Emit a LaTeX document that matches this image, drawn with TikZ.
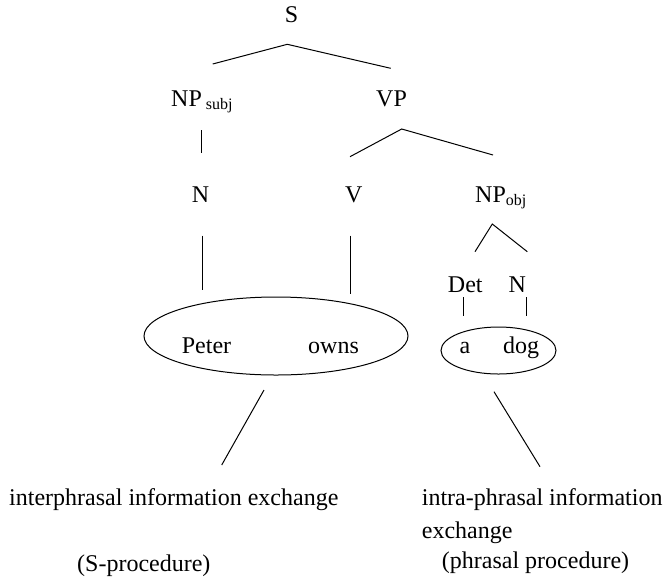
\documentclass[tikz,border=0pt]{standalone}
\usepackage{fontspec}
\setmainfont{Liberation Serif}
\usetikzlibrary{shapes.geometric}
\newcommand{\lowsub}[1]{\raisebox{-3pt}{\fontsize{16}{16}\selectfont #1}}
\tikzset{
  word/.style={font=\fontsize{24}{33}\selectfont, inner sep=0pt, anchor=base},
  branch/.style={line width=1pt},
  bubble/.style={draw, ellipse, line width=1pt, inner sep=0pt}
}
\begin{document}
\begin{tikzpicture}[x=1pt, y=-1pt]
  \useasboundingbox (0,0) rectangle (669,582);

  % Top: S and its two branches
  \node[word] (S) at (291.5,22.7) {S};
  \coordinate (s-top) at (287.3,44.3);
  \coordinate (s-left) at (212.7,64);
  \coordinate (s-right) at (390.7,68.3);
  \draw[branch] (s-left) -- (s-top) -- (s-right);

  % Subject NP
  \node[word, anchor=base west] (NPsubj) at (171,106) {NP\,\lowsub{subj}};
  \coordinate (np-top) at (201.7,130);
  \coordinate (np-bot) at (201.7,153);
  \draw[branch] (np-top) -- (np-bot);
  \node[word] (N) at (200.5,202) {N};

  % VP and its branches
  \node[word, anchor=base west] (VP) at (376,106) {VP};
  \coordinate (vp-top) at (401.7,129);
  \coordinate (vp-left) at (350,156.7);
  \coordinate (vp-right) at (493,155);
  \draw[branch] (vp-left) -- (vp-top) -- (vp-right);
  \node[word] (V) at (353.7,202) {V};

  % Object NP
  \node[word, anchor=base west] (NPobj) at (475,202) {NP\lowsub{obj}};
  \coordinate (obj-top) at (492.3,224);
  \coordinate (obj-left) at (475,251.7);
  \coordinate (obj-right) at (527.3,251.7);
  \draw[branch] (obj-left) -- (obj-top) -- (obj-right);
  \node[word] (Det) at (465.3,292.7) {Det};
  \node[word] (Nobj) at (517.3,292.7) {N};

  % Lines down to the words
  \coordinate (n-top) at (202,235.7);
  \coordinate (n-bot) at (202,290);
  \coordinate (v-top) at (350.7,235.7);
  \coordinate (v-bot) at (350.7,294);
  \coordinate (det-top) at (463.3,297);
  \coordinate (det-bot) at (463.3,316);
  \coordinate (nobj-top) at (526.7,297);
  \coordinate (nobj-bot) at (526.7,316);
  \draw[branch] (n-top) -- (n-bot);
  \draw[branch] (v-top) -- (v-bot);
  \draw[branch] (det-top) -- (det-bot);
  \draw[branch] (nobj-top) -- (nobj-bot);

  % The two ellipses with the words
  \node[bubble, minimum width=264pt, minimum height=78pt] (clause) at (276,336) {};
  \node[word, anchor=base west] (Peter) at (181.7,353.3) {Peter};
  \node[word, anchor=base west] (owns) at (308,353.3) {owns};
  \node[bubble, minimum width=115pt, minimum height=47pt] (phrase) at (498.5,350.5) {};
  \node[word] (a) at (465,353) {a};
  \node[word] (dog) at (521,353) {dog};

  % Lines down to the procedures
  \coordinate (sp-top) at (264,390);
  \coordinate (sp-bot) at (221.7,465);
  \coordinate (pp-top) at (494,391.7);
  \coordinate (pp-bot) at (540,466.7);
  \draw[branch] (sp-top) -- (sp-bot);
  \draw[branch] (pp-top) -- (pp-bot);

  % Procedure texts
  \node[word, anchor=base west] (inter) at (9,505) {interphrasal information exchange};
  \node[word, anchor=base west] (sproc) at (77,571.7) {(S-procedure)};
  \node[word, anchor=base west, align=left] (intra) at (421.7,538) {intra-phrasal information\\exchange};
  \node[word, anchor=base west] (pproc) at (441.7,568) {(phrasal procedure)};

\end{tikzpicture}
\end{document}
